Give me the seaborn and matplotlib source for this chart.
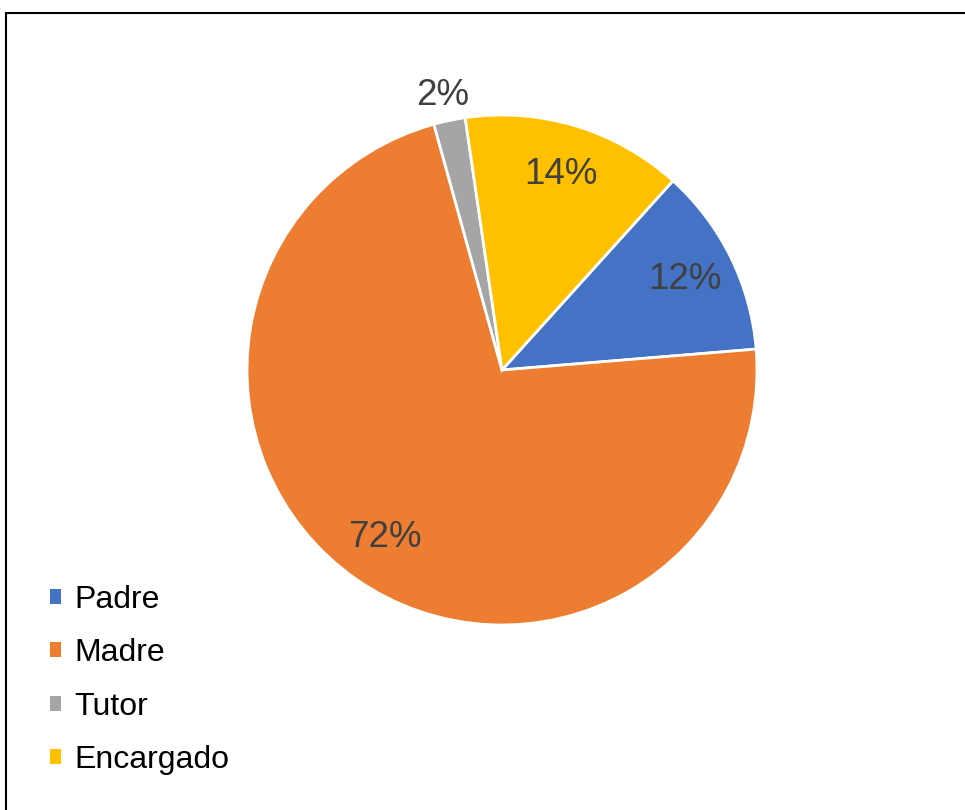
import numpy as np
import matplotlib
matplotlib.use("Agg")
import matplotlib.pyplot as plt
import seaborn as sns
from matplotlib.patches import Rectangle, Patch

categories = ["Padre", "Madre", "Tutor", "Encargado"]
values = [12, 72, 2, 14]
colors = ["#4472C4", "#ED7D31", "#A5A5A5", "#FFC000"]

sns.set_theme(style="white")
plt.rcParams['font.family'] = ['Liberation Sans', 'DejaVu Sans']

W, H = 965, 810
fig = plt.figure(figsize=(W / 100, H / 100), dpi=100)
fig.patch.set_facecolor("white")

cx, cy, R = 502, 370, 255
ax = fig.add_axes([(cx - R) / W, (H - cy - R) / H, 2 * R / W, 2 * R / H])
wedges, texts, autotexts = ax.pie(
    values, colors=colors, startangle=47.9, counterclock=False,
    autopct='%1.0f%%', pctdistance=0.8, radius=1.0,
    wedgeprops=dict(edgecolor="white", linewidth=2.0),
    textprops=dict(color="#404040", fontsize=26.5),
)
ax.set_xlim(-1, 1)
ax.set_ylim(-1, 1)
ax.set_aspect("auto")
ax.axis("off")

# Move the small Tutor label outside
w = wedges[2]
mid = np.deg2rad((w.theta1 + w.theta2) / 2)
autotexts[2].set_position((1.12 * np.cos(mid), 1.1 * np.sin(mid)))

handles = [Patch(facecolor=c, edgecolor="none") for c in colors]
fig.legend(handles, categories, loc="upper left",
           bbox_to_anchor=(50 / W, 1 - 585 / H), frameon=False,
           fontsize=23, handlelength=0.345, handleheight=0.345,
           handletextpad=0.41, labelspacing=0.73, borderpad=0,
           borderaxespad=0, labelcolor="black")

# Outer border (top and left visible)
fig.add_artist(Rectangle((6 / W, -0.1), 1.2, 1 - 13 / H + 0.1,
                         transform=fig.transFigure, fill=False,
                         edgecolor="black", linewidth=1.5))

fig.savefig("out.png", dpi=100)
